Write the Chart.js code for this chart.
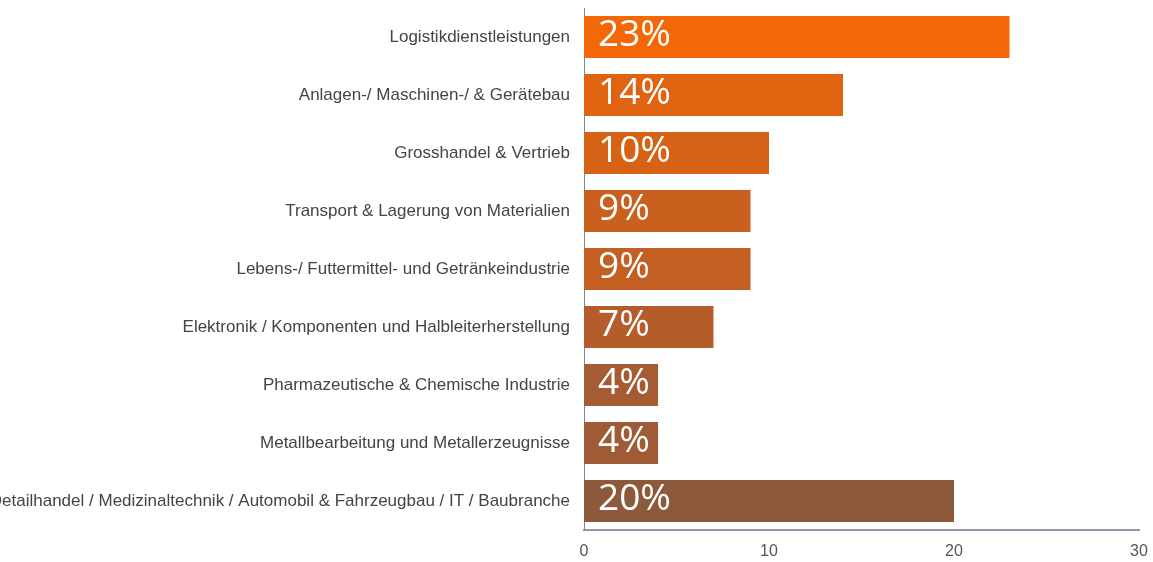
<!DOCTYPE html>
<html>
<head>
<meta charset="utf-8">
<script src="https://cdn.jsdelivr.net/npm/chart.js@4/dist/chart.umd.min.js"></script>
<style>
  html, body { margin: 0; padding: 0; background: #fff; }
  #wrap { width: 1153px; height: 562px; position: relative; }
</style>
</head>
<body>
<div id="wrap"><canvas id="chart"></canvas></div>
<script>
// Branchen (Anteil in %)
var categories = [
    'Logistikdienstleistungen',
    'Anlagen-/ Maschinen-/ & Gerätebau',
    'Grosshandel & Vertrieb',
    'Transport & Lagerung von Materialien',
    'Lebens-/ Futtermittel- und Getränkeindustrie',
    'Elektronik / Komponenten und Halbleiterherstellung',
    'Pharmazeutische & Chemische Industrie',
    'Metallbearbeitung und Metallerzeugnisse',
    'Detailhandel / Medizinaltechnik / Automobil & Fahrzeugbau / IT / Baubranche'
];
var values = [23, 14, 10, 9, 9, 7, 4, 4, 20];
var tickValues = [0, 10, 20, 30];

var barColors = [
    '#f46707', '#e0640f', '#d66216', '#c9601e', '#c45f22',
    '#b45d2a', '#a65c32', '#9e5b36', '#8c593a'
];

// white percentage labels inside the bars
var valueLabels = {
    id: 'valueLabels',
    afterDatasetsDraw: function(chart) {
        var ctx = chart.ctx;
        var meta = chart.getDatasetMeta(0);
        ctx.save();
        ctx.fillStyle = '#ffffff';
        ctx.font = '37px "Open Sans", sans-serif';
        ctx.textAlign = 'left';
        ctx.textBaseline = 'middle';
        meta.data.forEach(function(bar, i) {
            ctx.fillText(values[i] + '%', bar.base + 14, bar.y - 2);
        });
        ctx.restore();
    }
};

new Chart(document.getElementById('chart'), {
    type: 'bar',
    data: {
        labels: categories,
        datasets: [{
            data: values,
            backgroundColor: barColors,
            borderWidth: 0,
            barPercentage: 0.72,
            categoryPercentage: 1
        }]
    },
    options: {
        indexAxis: 'y',
        responsive: true,
        maintainAspectRatio: false,
        animation: false,
        layout: { padding: { top: 8, right: 14, left: 0, bottom: 0 } },
        plugins: {
            legend: { display: false },
            tooltip: { enabled: false }
        },
        scales: {
            x: {
                min: 0,
                max: 30,
                afterBuildTicks: function(scale) {
                    scale.ticks = tickValues.map(function(v) { return { value: v }; });
                },
                afterFit: function(scale) {
                    scale.height = 32;
                    scale.paddingLeft = 0;
                    scale.paddingRight = 0;
                },
                grid: { display: false, drawTicks: false },
                border: { display: true, color: '#8e99a5', width: 2 },
                ticks: {
                    padding: 12,
                    color: '#555',
                    font: { family: '"Liberation Sans", Arial, sans-serif', size: 16 }
                }
            },
            y: {
                afterFit: function(scale) {
                    scale.width = 584;
                    scale.paddingTop = 0;
                    scale.paddingBottom = 0;
                },
                grid: { display: false, drawTicks: false },
                border: { display: true, color: '#7c8794', width: 1 },
                ticks: {
                    padding: 14,
                    autoSkip: false,
                    color: '#444',
                    font: { family: '"Liberation Sans", Arial, sans-serif', size: 17 }
                }
            }
        }
    },
    plugins: [valueLabels]
});
</script>
</body>
</html>
